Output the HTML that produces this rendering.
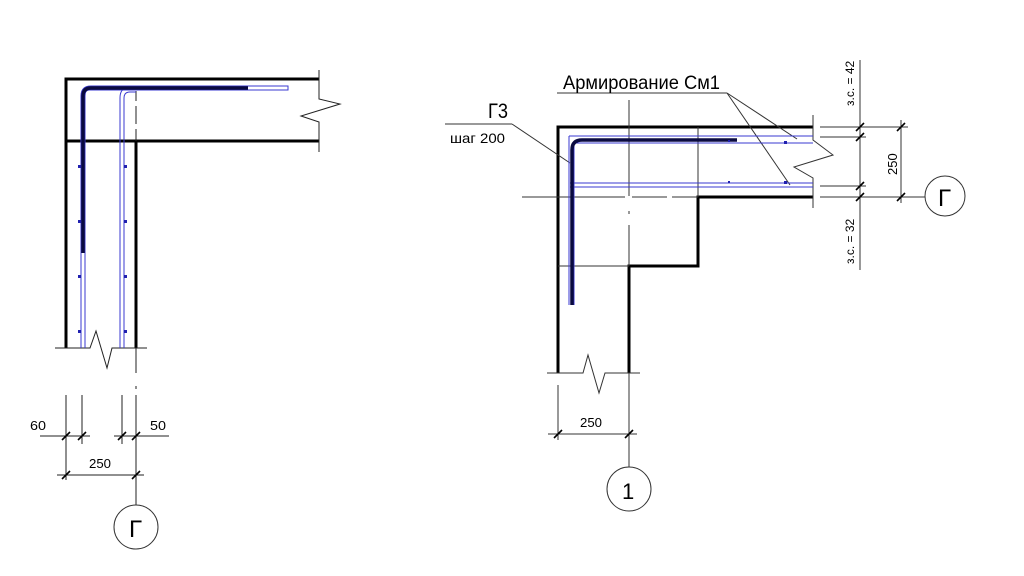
<!DOCTYPE html>
<html><head><meta charset="utf-8"><style>html,body{margin:0;padding:0;background:#fff}svg{display:block}text{font-family:"Liberation Sans",sans-serif;fill:#000}</style></head><body>
<svg width="1024" height="576" viewBox="0 0 1024 576" xmlns="http://www.w3.org/2000/svg">
<g fill="none" stroke-linecap="butt">
<g stroke="#000" stroke-width="3">
<polyline points="319,79 66,79 66,348"/>
<line x1="66" y1="141" x2="319" y2="141"/>
<line x1="136" y1="141" x2="136" y2="348"/>
</g>
<g stroke="#222" stroke-width="1">
<polyline points="319,70 319,99 340,104 301,116 319,122 319,152"/>
<polyline points="55,348 90,348 96,331 107,368 112,348 147,348"/>
<line x1="136" y1="91" x2="136" y2="101"/><line x1="136" y1="106" x2="136" y2="124"/><line x1="136" y1="129" x2="136" y2="141"/>
<line x1="136" y1="348" x2="136" y2="373"/><line x1="136" y1="386" x2="136" y2="389"/>
</g>
<g stroke="#3a3ad0" stroke-width="1">
<path d="M81,348 V96 Q81,86 91,86 H288 V90 H89 Q85,90 85,96 V348"/>
<path d="M120,348 V98 Q120,88 128,88 H136 M124,348 V98 Q124,92 130,92 H136"/>
</g>
<path d="M83,253 V96 Q83,88 91,88 H248" stroke="#0a0a40" stroke-width="3.5"/>
<g fill="#2020b0">
<rect x="78" y="165" width="3" height="3"/><rect x="78" y="220" width="3" height="3"/><rect x="78" y="275" width="3" height="3"/><rect x="78" y="330" width="3" height="3"/>
<rect x="124" y="165" width="3" height="3"/><rect x="124" y="220" width="3" height="3"/><rect x="124" y="275" width="3" height="3"/><rect x="124" y="330" width="3" height="3"/>
</g>
<g stroke="#222" stroke-width="1">
<line x1="66" y1="395" x2="66" y2="480"/><line x1="82" y1="395" x2="82" y2="444"/>
<line x1="122" y1="395" x2="122" y2="444"/><line x1="136" y1="395" x2="136" y2="505"/>
<line x1="40" y1="436" x2="90" y2="436"/><line x1="114" y1="436" x2="169" y2="436"/>
<line x1="57" y1="475" x2="144" y2="475"/>
</g>
<g stroke="#000" stroke-width="1.6">
<line x1="62" y1="440" x2="70" y2="432"/><line x1="78" y1="440" x2="86" y2="432"/><line x1="118" y1="440" x2="126" y2="432"/><line x1="132" y1="440" x2="140" y2="432"/>
<line x1="62" y1="479" x2="70" y2="471"/><line x1="132" y1="479" x2="140" y2="471"/>
</g>
<circle cx="136" cy="527" r="22" stroke="#333" stroke-width="1"/>
<g stroke="#000" stroke-width="3">
<polyline points="813,127 558,127 558,373"/>
<polyline points="813,197 698,197 698,266 629,266 629,373"/>
</g>
<g stroke="#333" stroke-width="1">
<line x1="698" y1="127" x2="698" y2="197"/>
<line x1="558" y1="266" x2="629" y2="266"/>
<line x1="522" y1="197" x2="625" y2="197"/><line x1="632" y1="197" x2="667" y2="197"/><line x1="672" y1="197" x2="698" y2="197"/>
<line x1="629" y1="100" x2="629" y2="196"/><line x1="629" y1="211" x2="629" y2="214"/><line x1="629" y1="225" x2="629" y2="266"/>
<polyline points="813,115 813,140 833,155 794,167 813,178 813,208"/>
<polyline points="547,373 583,373 588,355 599,393 605,373 640,373"/>
<line x1="629" y1="373" x2="629" y2="467"/>
<line x1="558" y1="385" x2="558" y2="440"/>
<line x1="548" y1="434" x2="637" y2="434"/>
<line x1="820" y1="127" x2="908" y2="127"/><line x1="820" y1="137" x2="866" y2="137"/>
<line x1="820" y1="186" x2="866" y2="186"/><line x1="820" y1="197" x2="925" y2="197"/>
<line x1="860" y1="60" x2="860" y2="270"/><line x1="901" y1="120" x2="901" y2="203"/>
<line x1="557" y1="93" x2="727" y2="93"/>
<line x1="727" y1="93" x2="797" y2="139"/><line x1="727" y1="93" x2="790" y2="185"/>
<line x1="445" y1="124" x2="512" y2="124"/><line x1="512" y1="124" x2="570" y2="163"/>
</g>
<g stroke="#000" stroke-width="1.6">
<line x1="554" y1="438" x2="562" y2="430"/><line x1="625" y1="438" x2="633" y2="430"/>
<line x1="856" y1="131" x2="864" y2="123"/><line x1="856" y1="141" x2="864" y2="133"/>
<line x1="856" y1="190" x2="864" y2="182"/><line x1="856" y1="201" x2="864" y2="193"/>
<line x1="897" y1="131" x2="905" y2="123"/><line x1="897" y1="201" x2="905" y2="193"/>
</g>
<g stroke="#3a3ad0" stroke-width="1">
<path d="M569,136 H813 M575,143 H813 M570,183 H813 M570,187 H813"/>
<path d="M569,136 V305 M574,143 V305"/>
</g>
<path d="M572,305 V150 Q572,140 582,140 H737" stroke="#0a0a40" stroke-width="3.5"/>
<g fill="#2020b0"><rect x="728" y="140" width="2" height="2"/><rect x="784" y="141" width="3" height="3"/><rect x="728" y="181" width="2" height="2"/><rect x="784" y="181" width="3" height="3"/></g>
<circle cx="945" cy="196" r="20" stroke="#333" stroke-width="1"/>
<circle cx="629" cy="489" r="22" stroke="#333" stroke-width="1"/>
</g>
<text x="30" y="430" font-size="13" textLength="16" lengthAdjust="spacingAndGlyphs">60</text>
<text x="150" y="430" font-size="13" textLength="16" lengthAdjust="spacingAndGlyphs">50</text>
<text x="89" y="468" font-size="13" textLength="22" lengthAdjust="spacingAndGlyphs">250</text>
<text x="129" y="537" font-size="24" font-weight="300">Г</text>
<text x="580" y="427" font-size="13" textLength="22" lengthAdjust="spacingAndGlyphs">250</text>
<text x="622" y="499" font-size="22">1</text>
<text x="938" y="206" font-size="24">Г</text>
<text x="563" y="89" font-size="19" textLength="157" lengthAdjust="spacingAndGlyphs">Армирование См1</text>
<text x="488" y="118" font-size="21" textLength="20" lengthAdjust="spacingAndGlyphs">Г3</text>
<text x="450" y="143" font-size="14" textLength="55" lengthAdjust="spacingAndGlyphs">шаг 200</text>
<text transform="translate(897,175) rotate(-90)" font-size="13">250</text>
<text transform="translate(854,106) rotate(-90)" font-size="12">з.с. = 42</text>
<text transform="translate(854,264) rotate(-90)" font-size="12">з.с. = 32</text>
</svg>
</body></html>
